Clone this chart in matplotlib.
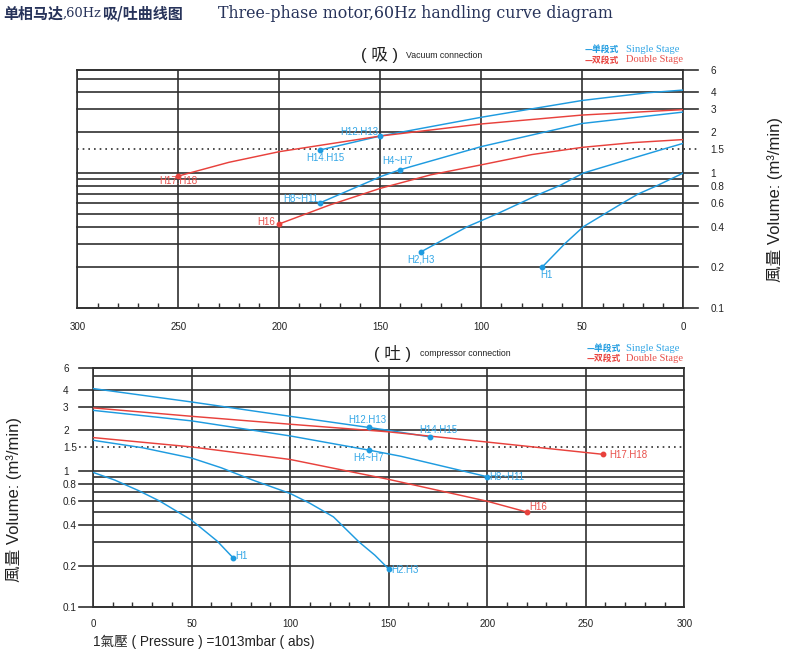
import matplotlib
matplotlib.use("Agg")
import matplotlib.pyplot as plt
from matplotlib.ticker import FixedLocator, FixedFormatter, NullFormatter

# ---------------- data ----------------
# vacuum connection (top chart), x = pressure (mbar), y = volume (m3/min)
vac_h1_x = [70, 58.6, 49.5, 30, 22.3, 13.5, 0]
vac_h1_y = [0.2, 0.3, 0.4, 0.6, 0.7, 0.8, 1.0]
vac_h2_x = [130, 107, 92, 71, 61, 49.5, 26.4, 11.5, 0]
vac_h2_y = [0.26, 0.4, 0.5, 0.7, 0.81, 1.0, 1.27, 1.48, 1.66]
vac_h4_x = [180, 153.5, 150, 140, 100, 50, 0]
vac_h4_y = [0.6, 0.89, 0.94, 1.06, 1.57, 2.33, 2.83]
vac_h12_x = [180, 150, 100, 50, 18, 0]
vac_h12_y = [1.48, 1.88, 2.59, 3.45, 3.93, 4.12]
vac_h16_x = [200, 175, 150, 125, 100, 75, 50, 25, 0]
vac_h16_y = [0.42, 0.58, 0.77, 0.97, 1.15, 1.37, 1.55, 1.68, 1.77]
vac_h17_x = [250, 225, 200, 150, 100, 50, 0]
vac_h17_y = [0.95, 1.2, 1.44, 1.88, 2.31, 2.69, 2.95]

# compressor connection (bottom chart)
cmp_h1_x = [0, 11, 23, 34, 50, 63, 71]
cmp_h1_y = [0.98, 0.86, 0.72, 0.60, 0.435, 0.305, 0.23]
cmp_h2_x = [0, 25, 50, 65, 81, 100, 110, 122, 135, 143, 150]
cmp_h2_y = [1.69, 1.49, 1.25, 1.06, 0.86, 0.685, 0.58, 0.46, 0.30, 0.24, 0.19]
cmp_h4_x = [0, 50, 100, 140, 156, 200]
cmp_h4_y = [2.81, 2.35, 1.82, 1.43, 1.29, 0.91]
cmp_h12_x = [0, 50, 100, 140, 150, 171]
cmp_h12_y = [4.07, 3.24, 2.54, 2.10, 2.0, 1.79]
cmp_h16_x = [0, 50, 100, 150, 200, 220]
cmp_h16_y = [1.77, 1.51, 1.22, 0.87, 0.60, 0.50]
cmp_h17_x = [0, 50, 100, 150, 200, 259]
cmp_h17_y = [2.93, 2.54, 2.22, 1.95, 1.64, 1.33]

x_ticks = [0, 50, 100, 150, 200, 250, 300]
x_minor = [v for v in range(10, 300, 10) if v % 50]
y_major = [0.1, 0.2, 0.4, 0.6, 0.8, 1, 1.5, 2, 3, 4, 5.8]
y_major_labels = ["0.1", "0.2", "0.4", "0.6", "0.8", "1", "1.5", "2", "3", "4", "6"]
y_minor = [0.3, 0.5, 0.7, 0.9, 5]

title_cn_parts = ["单相马达", ",60Hz", "吸/吐曲线图"]
title_en = "Three-phase motor,60Hz handling curve diagram"

# ---------------- style ----------------
W, H = 790, 654
BLUE = "#1e9be0"
RED = "#e8413c"
BLUE_T = "#32a6e6"
RED_T = "#e8504b"
GRID = "#303030"
TXT = "#222222"
TITLE_C = "#27335a"
SANS = ["Liberation Sans", "Noto Sans CJK TC"]

fig = plt.figure(figsize=(W / 100, H / 100), dpi=100)


def fr(x, y):
    return x / W, 1 - y / H


def axes_px(l, t, r, b):
    return fig.add_axes([l / W, 1 - b / H, (r - l) / W, (b - t) / H])


def setup(ax, xlim, side):
    ax.set_yscale("log")
    ax.set_xlim(*xlim)
    ax.set_ylim(0.1, 5.8)
    ax.xaxis.set_major_locator(FixedLocator(x_ticks))
    ax.xaxis.set_minor_locator(FixedLocator(x_minor))
    ax.xaxis.set_minor_formatter(NullFormatter())
    ax.yaxis.set_major_locator(FixedLocator(y_major))
    ax.yaxis.set_major_formatter(FixedFormatter(y_major_labels))
    ax.yaxis.set_minor_locator(FixedLocator(y_minor))
    ax.yaxis.set_minor_formatter(NullFormatter())
    ax.grid(axis="x", which="major", color=GRID, lw=1.2)
    ax.tick_params(axis="x", which="major", length=0, labelsize=7, labelcolor=TXT)
    ax.tick_params(axis="x", which="minor", direction="in", length=3.4, width=1.0,
                   color=GRID, bottom=True, top=False)
    ax.tick_params(axis="y", which="both", length=0, labelsize=7.2, labelcolor=TXT)
    for s in ax.spines.values():
        s.set_color(GRID)
        s.set_linewidth(1.2)
    if side == "right":
        ax.yaxis.tick_right()
        ax.tick_params(axis="y", which="both", length=0, pad=19.5)
        ext = (0, 1.025)
    else:
        ax.tick_params(axis="y", which="both", length=0, pad=21.6)
        ext = (-0.024, 1)
    for v in y_major:
        ls = (0, (1, 2.4)) if v == 1.5 else "-"
        ax.axhline(v, xmin=ext[0], xmax=ext[1], color=GRID, lw=1.2, ls=ls,
                   clip_on=False, zorder=1)
    for v in y_minor:
        ax.axhline(v, color=GRID, lw=1.2, zorder=1)
    for lab in ax.get_xticklabels() + ax.get_yticklabels():
        lab.set_fontfamily(SANS)


def curve(ax, xs, ys, color, marks):
    ax.plot(xs, ys, color=color, lw=1.05, zorder=3, solid_capstyle="round",
            solid_joinstyle="round")
    tc = BLUE_T if color == BLUE else RED_T
    for idx, text, off, ha in marks:
        ax.plot(xs[idx], ys[idx], "o", color=color, ms=3.2, zorder=4)
        ax.annotate(text, (xs[idx], ys[idx]), xytext=off, textcoords="offset points",
                    ha=ha, va="center", fontsize=7.0, color=tc, family=SANS, zorder=5)


# ---------------- top chart: vacuum ----------------
ax1 = axes_px(77.3, 70, 683.3, 308)
setup(ax1, (300, 0), "right")
ax1.tick_params(axis="x", which="major", pad=10)
curve(ax1, vac_h1_x, vac_h1_y, BLUE, [(0, "H1", (3.6, -5.2), "center")])
curve(ax1, vac_h2_x, vac_h2_y, BLUE, [(0, "H2,H3", (0, -5.5), "center")])
curve(ax1, vac_h4_x, vac_h4_y, BLUE, [(0, "H8~H11", (-0.7, 3.2), "right"),
                                       (3, "H4~H7", (-2.3, 6.5), "center")])
curve(ax1, vac_h12_x, vac_h12_y, BLUE, [(0, "H14.H15", (3.8, -6.0), "center"),
                                         (1, "H12.H13", (-1.2, 3.1), "right")])
curve(ax1, vac_h16_x, vac_h16_y, RED, [(0, "H16", (-2.9, 1.7), "right")])
curve(ax1, vac_h17_x, vac_h17_y, RED, [(0, "H17.H18", (0, -3.6), "center")])

# ---------------- bottom chart: compressor ----------------
ax2 = axes_px(93, 367.7, 684.3, 606.7)
setup(ax2, (0, 300), "left")
ax2.tick_params(axis="x", which="major", pad=8.7)
for lab in ax2.get_yticklabels():
    lab.set_horizontalalignment("left")
curve(ax2, cmp_h1_x, cmp_h1_y, BLUE, [(-1, "H1", (2.0, 1.0), "left")])
curve(ax2, cmp_h2_x, cmp_h2_y, BLUE, [(-1, "H2.H3", (1.7, -0.5), "left")])
curve(ax2, cmp_h4_x, cmp_h4_y, BLUE, [(3, "H4~H7", (0, -6.0), "center"),
                                       (-1, "H8~H11", (1.2, 0), "left")])
curve(ax2, cmp_h12_x, cmp_h12_y, BLUE, [(3, "H12.H13", (-1.0, 5.3), "center"),
                                         (-1, "H14.H15", (5.8, 4.8), "center")])
curve(ax2, cmp_h16_x, cmp_h16_y, RED, [(-1, "H16", (1.9, 3.6), "left")])
curve(ax2, cmp_h17_x, cmp_h17_y, RED, [(-1, "H17.H18", (4.3, -0.5), "left")])

# ---------------- title (mixed fonts, laid out piece by piece) ----------------
renderer = fig.canvas.get_renderer()
x_cur = 3.0
for i, part in enumerate(title_cn_parts):
    if i % 2 == 0:
        kw = dict(family=["Noto Sans CJK SC"], fontsize=10.8, weight="bold")
    else:
        kw = dict(family=["DejaVu Serif"], fontsize=9.4)
    t = fig.text(*fr(x_cur, 13.5), part, color=TITLE_C, ha="left", va="center", **kw)
    bb = t.get_window_extent(renderer=renderer)
    x_cur += bb.width
fig.text(*fr(218, 13.5), title_en, family=["DejaVu Serif"], fontsize=11.4,
         color=TITLE_C, ha="left", va="center")

# section headers
fig.text(*fr(361, 55), "( 吸 )", family=["Liberation Sans", "Noto Sans CJK SC"],
         fontsize=12, color=TXT, ha="left", va="center")
fig.text(*fr(406, 55.5), "Vacuum connection", family=SANS, fontsize=6.3, color=TXT,
         ha="left", va="center")
fig.text(*fr(374, 354), "( 吐 )", family=["Liberation Sans", "Noto Sans CJK SC"],
         fontsize=12, color=TXT, ha="left", va="center")
fig.text(*fr(420, 354), "compressor connection", family=SANS, fontsize=6.3, color=TXT,
         ha="left", va="center")

# legends
for (lx, ly1, ly2) in [(585, 49.3, 60), (586.5, 348.3, 358.3)]:
    fig.text(*fr(lx, ly1), "—单段式", family=["Noto Sans CJK SC"], fontsize=6.3,
             weight="bold", color=BLUE, ha="left", va="center")
    fig.text(*fr(625.7, ly1), "Single Stage", family=["Liberation Serif"], fontsize=7.6,
             color=BLUE_T, ha="left", va="center")
    fig.text(*fr(lx, ly2), "—双段式", family=["Noto Sans CJK SC"], fontsize=6.3,
             weight="bold", color=RED, ha="left", va="center")
    fig.text(*fr(625.7, ly2), "Double Stage", family=["Liberation Serif"], fontsize=7.6,
             color=RED_T, ha="left", va="center")

# axis titles
fig.text(*fr(775, 200), "風量 Volume: (m³/min)", family=SANS, fontsize=12, color=TXT,
         rotation=90, ha="center", va="center")
fig.text(*fr(14, 500), "風量 Volume: (m³/min)", family=SANS, fontsize=12, color=TXT,
         rotation=90, ha="center", va="center")
fig.text(*fr(93, 642), "1氣壓 ( Pressure ) =1013mbar ( abs)", family=SANS, fontsize=9.8,
         color=TXT, ha="left", va="center")

fig.savefig("out.png", dpi=100)
